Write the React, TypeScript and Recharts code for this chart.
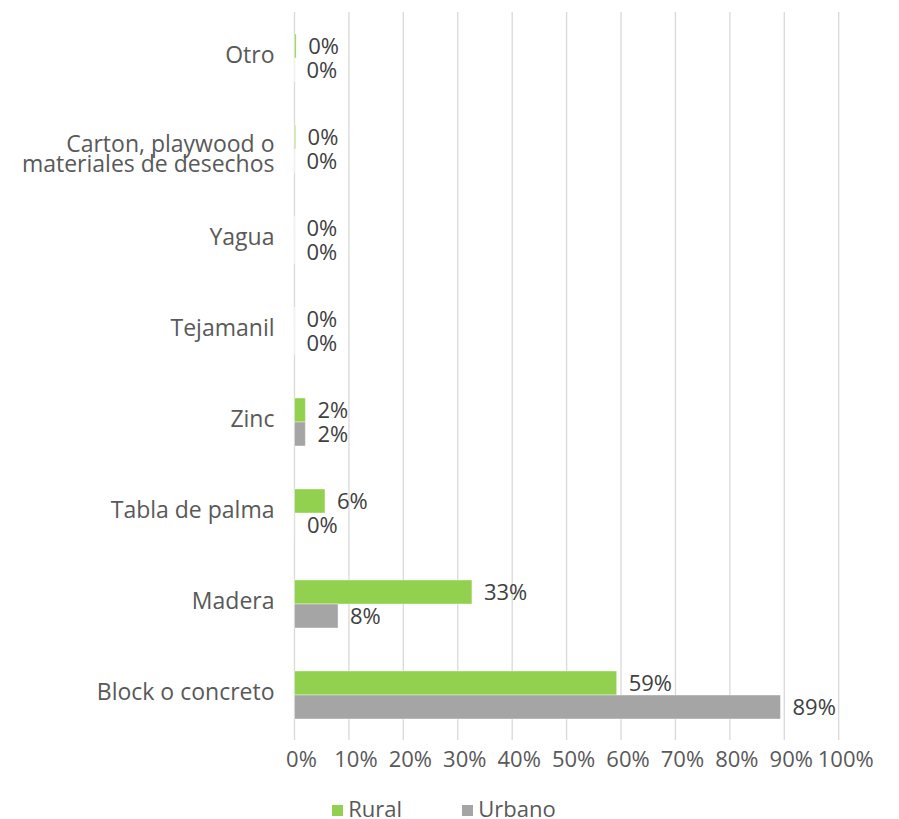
import { Bar, BarChart, CartesianGrid, LabelList, Legend, XAxis, YAxis } from "recharts"

const categories = [
    "Otro",
    "Carton, playwood o\nmateriales de desechos",
    "Yagua",
    "Tejamanil",
    "Zinc",
    "Tabla de palma",
    "Madera",
    "Block o concreto",
]
const rural = [0.3, 0.2, 0, 0, 2, 5.6, 32.6, 59.2]
const urbano = [0, 0, 0, 0, 2, 0.1, 8, 89.3]
const xTicks = [0, 10, 20, 30, 40, 50, 60, 70, 80, 90, 100]
const seriesNames = ["Rural", "Urbano"]

const GREEN = "#92d050"
const GRAY = "#a5a5a5"

const data = categories.map((name, i) => ({ name, rural: rural[i], urbano: urbano[i] }))

const pct = (v: any) => `${Math.round(Number(v))}%`

function CategoryTick({ x, y, payload }: any) {
    const lines = String(payload.value).split("\n")
    return (
        <text x={x} y={y} textAnchor="end" fill="#595959" fontSize={23}>
            {lines.map((line, i) => (
                <tspan key={i} x={x} dy={i === 0 ? (lines.length > 1 ? 3.5 : 5.5) : 19.5}>
                    {line}
                </tspan>
            ))}
        </text>
    )
}

function LegendContent() {
    const items = [
        { name: seriesNames[0], color: GREEN, left: 331.7 },
        { name: seriesNames[1], color: GRAY, left: 461.7 },
    ]
    return (
        <div style={{ position: "relative", height: 20, width: 899 }}>
            {items.map((it) => (
                <div key={it.name} style={{ position: "absolute", left: it.left, top: 0, height: 20 }}>
                    <span
                        style={{
                            position: "absolute",
                            left: 0,
                            top: 7,
                            width: 11,
                            height: 11,
                            background: it.color,
                        }}
                    />
                    <span
                        style={{
                            position: "absolute",
                            left: 16.6,
                            top: 0,
                            fontSize: 22,
                            lineHeight: "20px",
                            color: "#595959",
                            whiteSpace: "nowrap",
                        }}
                    >
                        {it.name}
                    </span>
                </div>
            ))}
        </div>
    )
}

export default function App() {
    return (
        <div style={{ position: "absolute", left: 0, top: 0, width: 899, height: 819, fontFamily: "'Open Sans', sans-serif", background: "#fff" }}>
            <BarChart
                width={899}
                height={819}
                data={data}
                layout="vertical"
                margin={{ top: 12, right: 60.3, bottom: 29, left: 0 }}
                barGap={0}
            >
                <CartesianGrid horizontal={false} stroke="#d9d9d9" strokeWidth={1.3} />
                <XAxis
                    type="number"
                    domain={[0, 100]}
                    ticks={xTicks}
                    tickFormatter={pct}
                    axisLine={false}
                    tickLine={false}
                    tickMargin={5}
                    height={30}
                    interval={0}
                    tick={{ fill: "#595959", fontSize: 22, dx: 7 }}
                />
                <YAxis
                    type="category"
                    dataKey="name"
                    width={294.5}
                    axisLine={false}
                    tickLine={false}
                    tickMargin={14}
                    interval={0}
                    tick={<CategoryTick />}
                />
                <Legend
                    content={<LegendContent />}
                    wrapperStyle={{ top: 798, left: 0, bottom: "auto", width: 899 }}
                />
                <Bar dataKey="rural" name={seriesNames[0]} fill={GREEN} stroke="#ffffff" strokeOpacity={0.4} strokeWidth={1} barSize={24} minPointSize={0.01} isAnimationActive={false}>
                    <LabelList dataKey="rural" position="right" offset={12} formatter={pct} fill="#404040" fontSize={22} stroke="none" />
                </Bar>
                <Bar dataKey="urbano" name={seriesNames[1]} fill={GRAY} stroke="#ffffff" strokeOpacity={0.4} strokeWidth={1} barSize={24} minPointSize={0.01} isAnimationActive={false}>
                    <LabelList dataKey="urbano" position="right" offset={12} formatter={pct} fill="#404040" fontSize={22} stroke="none" />
                </Bar>
            </BarChart>
        </div>
    )
}
